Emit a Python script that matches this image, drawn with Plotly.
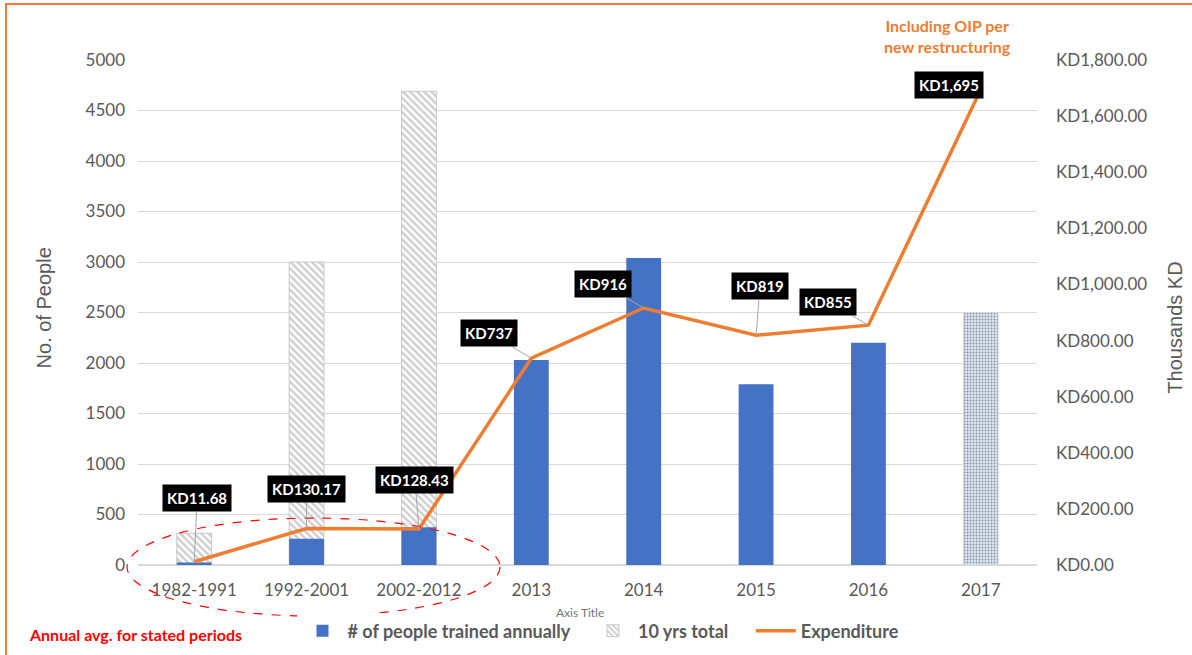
import plotly.graph_objects as go

categories = ["1982-1991", "1992-2001", "2002-2012", "2013", "2014", "2015", "2016", "2017"]
people_annual = [25, 260, 375, 2030, 3040, 1790, 2200, 2500]
ten_year_total = [315, 3000, 4690, None, None, None, None, None]
expenditure = [11.68, 130.17, 128.43, 737, 916, 819, 855, 1695]
exp_labels = ["KD11.68", "KD130.17", "KD128.43", "KD737", "KD916", "KD819", "KD855", "KD1,695"]
label_offsets = [(3, -64), (0, -39), (-4, -49), (-42, -25), (-41, -24), (4, -49), (-40, -23), (-32, -4)]

FONT = "Lato, 'Open Sans', sans-serif"
ARIAL = "'Liberation Sans', Arial, sans-serif"
GREY = "#595959"
BLUE = "#4472C4"
ORANGE = "#ED7D31"
NB = "\u00a0"

fig = go.Figure()

fig.add_trace(go.Bar(
    x=categories, y=ten_year_total, name="10 yrs total" + NB * 4, width=0.31,
    marker=dict(color="white", line=dict(color="#C8C8C8", width=1),
                pattern=dict(shape="\\", fgcolor="#A0A0A0", bgcolor="white", size=5, solidity=0.5)),
    legendrank=2,
))

fig.add_trace(go.Bar(
    x=categories, y=people_annual, name="# of people trained annually" + NB * 3, width=0.31,
    marker=dict(color=[BLUE] * 7 + ["#DAE3F3"],
                line=dict(color=[BLUE] * 7 + ["#D0DBF0"], width=[0] * 7 + [1]),
                pattern=dict(shape=[""] * 7 + ["."], fgcolor=[BLUE] * 7 + ["#A8BCE6"],
                             bgcolor=[BLUE] * 7 + ["#EDF2FA"], size=3, solidity=0.3)),
    legendrank=1,
))

fig.add_trace(go.Scatter(
    x=categories, y=expenditure, name="Expenditure", yaxis="y2",
    mode="lines", line=dict(color=ORANGE, width=3.5), legendrank=3,
))

annotations = []
for i, (val, lab, (ax, ay)) in enumerate(zip(expenditure, exp_labels, label_offsets)):
    annotations.append(dict(
        x=i, y=val, xref="x", yref="y2", text="<b>%s</b>" % lab,
        showarrow=True, arrowhead=0, arrowwidth=1, arrowcolor="#A6A6A6",
        ax=ax, ay=ay, standoff=0, bgcolor="black", borderpad=4,
        font=dict(family=FONT, size=15, color="white"),
    ))

annotations += [
    dict(x=-0.1046, y=0.51, xref="paper", yref="paper", text="No. of People", textangle=-90,
         xanchor="center", yanchor="middle",
         showarrow=False, font=dict(family=ARIAL, size=20, color=GREY)),
    dict(x=1.1535, y=0.47, xref="paper", yref="paper", text="Thousands KD", textangle=-90,
         xanchor="center", yanchor="middle",
         showarrow=False, font=dict(family=ARIAL, size=20, color=GREY)),
    dict(x=0.492, y=-0.094, xref="paper", yref="paper", text="Axis Title",
         xanchor="center", yanchor="middle",
         showarrow=False, font=dict(family=FONT, size=12, color="#757575")),
    dict(x=-0.003, y=-0.137, xref="paper", yref="paper", text="<b>Annual avg. for stated periods</b>",
         xanchor="center", yanchor="middle",
         showarrow=False, font=dict(family=FONT, size=16, color="#FF0000")),
    dict(x=0.901, y=1.0475, xref="paper", yref="paper",
         text="<b>Including OIP per<br>new restructuring</b>",
         xanchor="center", yanchor="middle",
         showarrow=False, font=dict(family=FONT, size=16, color=ORANGE)),
]

shapes = [
    dict(type="circle", xref="paper", yref="paper", x0=-0.0122, x1=0.4027, y0=-0.101, y1=0.093,
         line=dict(color="#FF0000", width=1.2, dash="dash"), layer="above"),
    dict(type="rect", xref="paper", yref="paper", x0=-0.1468, x1=1.3, y0=-0.3, y1=1.111,
         line=dict(color="#F4793B", width=2), layer="below"),
]

fig.update_layout(
    width=1192, height=655,
    margin=dict(l=138, r=155, t=60, b=90),
    paper_bgcolor="white", plot_bgcolor="white",
    barmode="overlay",
    font=dict(family=FONT, color=GREY),
    showlegend=True,
    legend=dict(orientation="h", x=0.515, y=(655 - 631) / 655, xref="paper", yref="container",
                xanchor="center", yanchor="middle",
                font=dict(family=FONT, size=18, color=GREY, weight="bold"),
                traceorder="normal", itemwidth=40),
    xaxis=dict(type="category", range=[-0.5, 7.5], tickfont=dict(size=17, color=GREY), showgrid=False,
               showline=True, linecolor="#D9D9D9", ticks="", automargin=False, ticklabelstandoff=10),
    yaxis=dict(range=[0, 5000], dtick=500, tickfont=dict(size=17, color=GREY),
               showgrid=True, gridcolor="#D9D9D9", zeroline=True, zerolinecolor="#D9D9D9",
               ticks="", ticklabelstandoff=12, automargin=False),
    yaxis2=dict(range=[0, 1800], dtick=200, overlaying="y", side="right",
                tickprefix="KD", tickformat=",.2f", tickfont=dict(size=17, color=GREY),
                showgrid=False, zeroline=False, ticks="", ticklabelstandoff=18, automargin=False),
    annotations=annotations,
    shapes=shapes,
)

fig.write_html("out.html", config={"displayModeBar": False},
               post_script="document.body.style.margin='0';document.body.style.overflow='hidden';")
